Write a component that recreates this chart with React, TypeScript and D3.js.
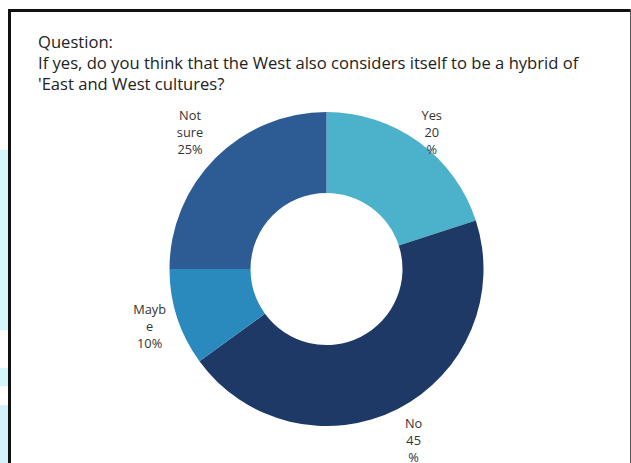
import React from "react";
import * as d3 from "d3";

const categories = ["Yes", "No", "Maybe", "Not sure"];
const values = [20, 45, 10, 25];
const labelLines = [
  ["Yes", "20", "%"],
  ["No", "45", "%"],
  ["Mayb", "e", "10%"],
  ["Not", "sure", "25%"],
];
const colors = ["#4cb1cb", "#1e3966", "#2a8abd", "#2d5c94"];
const titleLines = [
  "Question:",
  "If yes, do you think that the West also considers itself to be a hybrid of",
  "'East and West cultures?",
];

const W = 631;
const H = 463;
const cx = 326.5;
const cy = 269;
const outerR = 157;
const innerR = 76;
// distance of each label block centre from the donut centre
const labelDist = [172, 192, 186, 193];
const labelAngleShift = [0.03, 0, 0, 0];
const lineH = 17;

export default function App() {
  const pie = d3
    .pie<number>()
    .sort(null)
    .value((d) => d)
    .startAngle(0)
    .endAngle(2 * Math.PI);
  const arcs = pie(values);
  const arc = d3
    .arc<d3.PieArcDatum<number>>()
    .innerRadius(innerR)
    .outerRadius(outerR);

  return (
    <svg
      width={W}
      height={H}
      style={{ position: "absolute", left: 0, top: 0, background: "#ffffff" }}
      fontFamily="'Open Sans', 'Noto Sans', sans-serif"
    >
      <rect x={0} y={0} width={W} height={H} fill="#ffffff" />
      <rect x={0} y={150} width={9} height={180} fill="#d2f8fc" />
      <rect x={0} y={368} width={9} height={18} fill="#d2f8fc" />
      <rect x={0} y={405} width={9} height={58} fill="#d4f1fc" />
      <line x1={9.5} y1={10.5} x2={W} y2={10.5} stroke="#111" strokeWidth={3} />
      <line x1={9.5} y1={9} x2={9.5} y2={H} stroke="#111" strokeWidth={3} />
      <line x1={630.5} y1={9} x2={630.5} y2={H} stroke="#555" strokeWidth={1} />

      {titleLines.map((t, i) => (
        <text key={i} x={38} y={48 + i * 21} fontSize={16.6} fill="#222">
          {t}
        </text>
      ))}

      <g transform={`translate(${cx},${cy})`}>
        {arcs.map((a, i) => (
          <path key={categories[i]} d={arc(a) || ""} fill={colors[i]} />
        ))}
        {arcs.map((a, i) => {
          const mid = (a.startAngle + a.endAngle) / 2 + labelAngleShift[i];
          const lx = Math.sin(mid) * labelDist[i];
          const ly = -Math.cos(mid) * labelDist[i];
          const lines = labelLines[i];
          const top = ly - ((lines.length - 1) * lineH) / 2;
          return (
            <text key={"l" + i} textAnchor="middle" fontSize={12.8} fill="#333">
              {lines.map((ln, j) => (
                <tspan key={j} x={lx} y={top + j * lineH + 4.5}>
                  {ln}
                </tspan>
              ))}
            </text>
          );
        })}
      </g>
    </svg>
  );
}
